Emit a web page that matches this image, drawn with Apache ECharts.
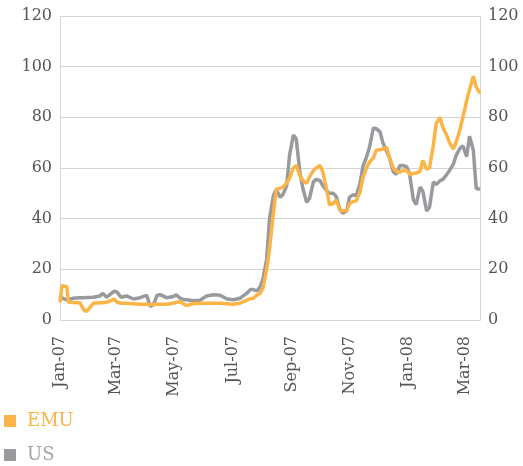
<!DOCTYPE html>
<html>
<head>
<meta charset="utf-8">
<script src="https://cdn.jsdelivr.net/npm/echarts@6/dist/echarts.min.js"></script>
<style>
  html, body { margin: 0; padding: 0; background: #fff; }
  #main { width: 523px; height: 466px; }
</style>
</head>
<body>
<div id="main"></div>
<script>
// dates of the readings
var dates = [
  '2007-01-01', '2007-01-03', '2007-01-08', '2007-01-10', '2007-01-15', '2007-01-22', '2007-01-26', '2007-01-29',
  '2007-02-05', '2007-02-12', '2007-02-15', '2007-02-19', '2007-02-27', '2007-03-02', '2007-03-06', '2007-03-12',
  '2007-03-19', '2007-03-26', '2007-04-02', '2007-04-06', '2007-04-09', '2007-04-13', '2007-04-16', '2007-04-23',
  '2007-04-30', '2007-05-03', '2007-05-07', '2007-05-11', '2007-05-14', '2007-05-21', '2007-05-28', '2007-06-04',
  '2007-06-11', '2007-06-18', '2007-06-25', '2007-07-02', '2007-07-09', '2007-07-16', '2007-07-20', '2007-07-23',
  '2007-07-27', '2007-07-30', '2007-08-02', '2007-08-06', '2007-08-09', '2007-08-13', '2007-08-16', '2007-08-20',
  '2007-08-23', '2007-08-27', '2007-08-30', '2007-09-03', '2007-09-06', '2007-09-10', '2007-09-13', '2007-09-17',
  '2007-09-20', '2007-09-24', '2007-09-27', '2007-10-01', '2007-10-04', '2007-10-08', '2007-10-11', '2007-10-15',
  '2007-10-18', '2007-10-22', '2007-10-25', '2007-10-29', '2007-11-01', '2007-11-05', '2007-11-08', '2007-11-12',
  '2007-11-15', '2007-11-19', '2007-11-22', '2007-11-26', '2007-11-29', '2007-12-03', '2007-12-06', '2007-12-10',
  '2007-12-13', '2007-12-17', '2007-12-20', '2007-12-24', '2007-12-27', '2007-12-31', '2008-01-03', '2008-01-07',
  '2008-01-10', '2008-01-14', '2008-01-17', '2008-01-21', '2008-01-24', '2008-01-28', '2008-01-31', '2008-02-04',
  '2008-02-07', '2008-02-11', '2008-02-14', '2008-02-18', '2008-02-21', '2008-02-25', '2008-02-28', '2008-03-03',
  '2008-03-06', '2008-03-10', '2008-03-13', '2008-03-17'
];
var emu = [
  7.0, 13.5, 13.2, 7.0, 6.9, 6.8, 4.0, 3.4,
  6.6, 6.8, 6.8, 7.0, 8.2, 7.0, 6.6, 6.6,
  6.4, 6.2, 6.2, 6.0, 6.1, 6.2, 6.2, 6.2,
  6.6, 7.0, 7.2, 6.3, 5.7, 6.5, 6.6, 6.6,
  6.6, 6.6, 6.4, 6.2, 6.6, 7.8, 8.4, 8.6,
  9.9, 10.5, 12.5, 20.0, 28.0, 42.0, 51.5, 52.0,
  52.5, 54.0, 56.0, 60.0, 61.0, 57.0, 55.0, 54.0,
  56.5, 59.0, 60.0, 61.0, 58.5, 51.5, 45.5, 46.0,
  47.4, 43.5, 43.0, 43.2, 46.0, 46.8, 47.0, 50.5,
  56.0, 60.2, 62.3, 64.0, 67.0, 67.2, 67.5, 68.2,
  64.0, 60.0, 58.8, 58.3, 59.0, 59.0, 57.5, 57.8,
  58.0, 58.7, 63.0, 59.5, 60.0, 69.0, 77.5, 80.0,
  76.0, 73.0, 70.0, 67.5, 70.3, 75.3, 80.0, 86.5,
  91.0, 96.2, 92.0, 89.5
];
var us = [
  9.0, 8.6, 7.9, 8.0, 8.6, 8.8, 8.8, 8.9,
  9.0, 9.5, 10.5, 9.0, 11.4, 11.0, 9.0, 9.5,
  8.3, 8.8, 9.7, 5.3, 6.0, 9.8, 10.0, 8.8,
  9.3, 10.0, 8.6, 8.0, 8.0, 7.6, 7.8, 9.5,
  10.0, 9.8, 8.4, 8.0, 8.6, 10.5, 12.0, 12.0,
  11.5, 13.0, 16.0, 24.0, 40.0, 49.0, 51.5, 48.5,
  49.5, 53.0, 65.0, 73.0, 71.5, 58.0, 52.0, 46.5,
  48.0, 54.5, 55.5, 55.0, 53.0, 51.0, 50.0, 50.0,
  48.8, 43.5, 42.2, 43.0, 48.5, 49.5, 49.0, 54.0,
  60.5, 64.5, 68.3, 75.8, 75.5, 74.3, 70.0, 66.5,
  64.0, 58.5, 57.5, 61.0, 61.0, 60.5, 57.8, 47.5,
  45.5, 52.5, 50.8, 43.0, 44.5, 54.5, 53.5, 55.0,
  55.5, 57.4, 59.0, 61.5, 65.0, 67.8, 68.8, 64.5,
  72.5, 67.0, 52.0, 51.5
];
// label months (every two months)
var tickMonths = ['2007-01', '2007-03', '2007-05', '2007-07', '2007-09', '2007-11', '2008-01', '2008-03'];
var monthNames = ['Jan', 'Feb', 'Mar', 'Apr', 'May', 'Jun', 'Jul', 'Aug', 'Sep', 'Oct', 'Nov', 'Dec'];

var FONT = 'DejaVu Serif';
var TXT = '#555555';
var AXIS = '#d4d4d6';
var ORANGE = '#fbb445';
var GREY = '#999a9e';

function toTime(s) {
  var p = s.split('-');
  return new Date(+p[0], +p[1] - 1, p[2] ? +p[2] : 1).getTime();
}
var tickValues = tickMonths.map(toTime);
var emuData = dates.map(function(d, i) { return [toTime(d), emu[i]]; });
var usData = dates.map(function(d, i) { return [toTime(d), us[i]]; });

var myChart = echarts.init(document.getElementById('main'));

var yAxisBase = function(pos) {
  return {
    type: 'value',
    position: pos,
    min: 0,
    max: 120,
    interval: 20,
    axisLine: { show: true, lineStyle: { color: AXIS, width: 1 } },
    axisTick: { show: false },
    axisLabel: { color: TXT, fontFamily: FONT, fontSize: 16, margin: 8 },
    splitLine: { show: pos == 'left', lineStyle: { color: AXIS, width: 1 } }
  };
};

var option = {
  animation: false,
  backgroundColor: '#fff',
  grid: { left: 60, right: 43, top: 16, bottom: 146, containLabel: false },
  legend: {
    orient: 'vertical',
    left: 4,
    top: 412,
    height: 60,
    padding: 0,
    itemWidth: 12,
    itemHeight: 12,
    itemGap: 16,
    icon: 'rect',
    textStyle: { fontFamily: FONT, fontSize: 18, lineHeight: 18, padding: [0, 0, 0, 6] },
    data: [
      { name: 'EMU', textStyle: { color: ORANGE } },
      { name: 'US', textStyle: { color: '#a3a3a7' } }
    ]
  },
  xAxis: {
    type: 'value',
    min: toTime('2007-01-01'),
    max: toTime('2008-03-17'),
    axisLine: { show: true, onZero: false, lineStyle: { color: AXIS, width: 1 } },
    axisTick: { show: false, customValues: tickValues },
    splitLine: { show: false },
    axisLabel: {
      customValues: tickValues,
      rotate: 90,
      color: TXT,
      fontFamily: FONT,
      fontSize: 16,
      margin: 16,
      hideOverlap: false,
      formatter: function(v) {
        var d = new Date(v);
        return monthNames[d.getMonth()] + '-' + String(d.getFullYear()).slice(2);
      }
    }
  },
  yAxis: [yAxisBase('left'), yAxisBase('right')],
  series: [
    {
      name: 'US',
      type: 'line',
      data: usData,
      showSymbol: false,
      smooth: false,
      lineStyle: { color: GREY, width: 3.5 },
      itemStyle: { color: GREY },
      z: 2
    },
    {
      name: 'EMU',
      type: 'line',
      data: emuData,
      showSymbol: false,
      smooth: false,
      lineStyle: { color: ORANGE, width: 3.5 },
      itemStyle: { color: ORANGE },
      z: 3
    }
  ]
};

myChart.setOption(option);
</script>
</body>
</html>
